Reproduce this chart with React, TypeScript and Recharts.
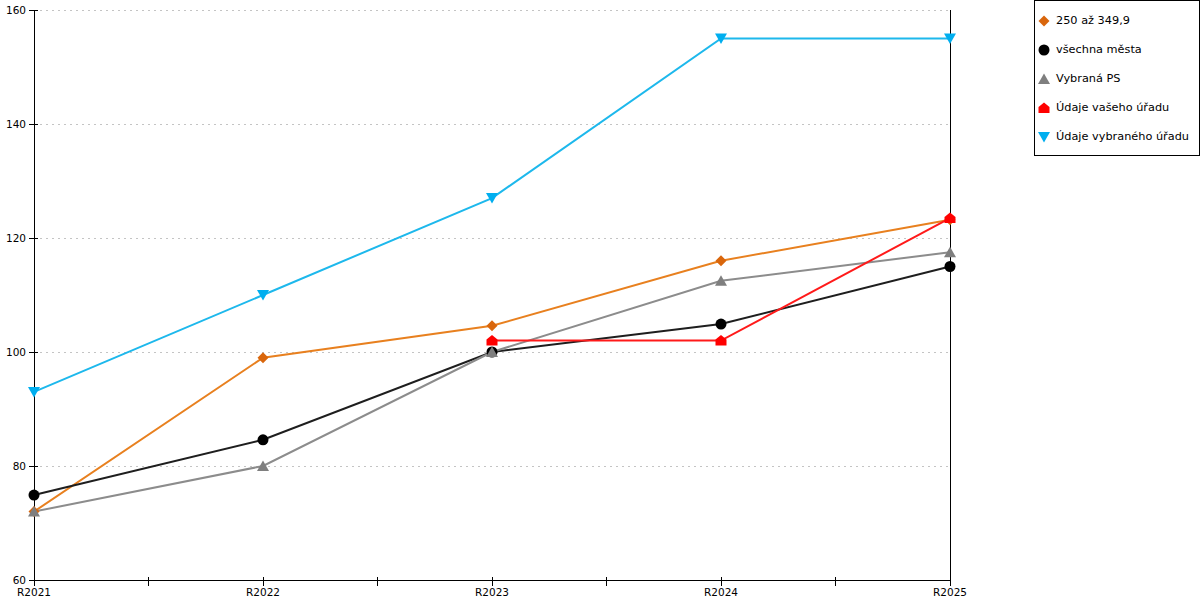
import React from "react";
import { CartesianGrid, Line, LineChart, ReferenceLine, XAxis, YAxis } from "recharts";

const years = ["R2021", "R2022", "R2023", "R2024", "R2025"];
const velikostni = [72, 99, 104.6, 116, 123.2];
const vsechnaMesta = [74.9, 84.6, 100, 104.9, 115];
const vybranaPS = [72, 80, 100, 112.5, 117.5];
const vasUrad = [null, null, 102, 102, 123.5];
const vybranyUrad = [93, 110, 127, 155, 155];

const yTicks = [60, 80, 100, 120, 140, 160];
const xTicks = [0, 0.5, 1, 1.5, 2, 2.5, 3, 3.5, 4];

const FONT = "'DejaVu Sans', Verdana, sans-serif";

const data = years.map((label, i) => ({
  x: i,
  label,
  velikostni: velikostni[i],
  vsechnaMesta: vsechnaMesta[i],
  vybranaPS: vybranaPS[i],
  vasUrad: vasUrad[i],
  vybranyUrad: vybranyUrad[i],
}));

type Shape = "diamond" | "circle" | "up" | "house" | "down";

function Marker({ shape, cx, cy, fill }: { shape: Shape; cx: number; cy: number; fill: string }) {
  switch (shape) {
    case "diamond":
      return <polygon points={`${cx},${cy - 5.5} ${cx + 5.5},${cy} ${cx},${cy + 5.5} ${cx - 5.5},${cy}`} fill={fill} />;
    case "circle":
      return <circle cx={cx} cy={cy} r={5.5} fill={fill} />;
    case "up":
      return <polygon points={`${cx},${cy - 5.5} ${cx + 6},${cy + 5} ${cx - 6},${cy + 5}`} fill={fill} />;
    case "down":
      return <polygon points={`${cx - 6},${cy - 5} ${cx + 6},${cy - 5} ${cx},${cy + 5.5}`} fill={fill} />;
    default:
      return (
        <polygon
          points={`${cx},${cy - 5.5} ${cx + 5.5},${cy - 1} ${cx + 5.5},${cy + 5} ${cx - 5.5},${cy + 5} ${cx - 5.5},${cy - 1}`}
          fill={fill}
        />
      );
  }
}

const series: { key: string; name: string; line: string; marker: string; shape: Shape; width: number }[] = [
  { key: "velikostni", name: "250 až 349,9", line: "#e8801f", marker: "#d9660c", shape: "diamond", width: 2 },
  { key: "vsechnaMesta", name: "všechna města", line: "#1e1e1e", marker: "#000000", shape: "circle", width: 2 },
  { key: "vybranaPS", name: "Vybraná PS", line: "#8c8c8c", marker: "#7f7f7f", shape: "up", width: 2 },
  { key: "vasUrad", name: "Údaje vašeho úřadu", line: "#ff1a1a", marker: "#ff0000", shape: "house", width: 2 },
  { key: "vybranyUrad", name: "Údaje vybraného úřadu", line: "#1db8ec", marker: "#00aeef", shape: "down", width: 2 },
];

function makeDot(shape: Shape, fill: string) {
  return (props: any) => {
    const { cx, cy, index } = props;
    if (cx == null || cy == null || props.value == null) return <g key={`d-${index}`} />;
    return (
      <g key={`d-${index}`}>
        <Marker shape={shape} cx={cx} cy={cy} fill={fill} />
      </g>
    );
  };
}

function XTick(props: any) {
  const { x, y, payload } = props;
  const v = payload.value as number;
  const isMajor = Number.isInteger(v);
  return (
    <g>
      <line x1={x} x2={x} y1={y - 3} y2={y + 6} stroke="#000" shapeRendering="crispEdges" />
      {isMajor && (
        <text x={x} y={y + 16} textAnchor="middle" fontSize={10.5} fontFamily={FONT} fill="#000">
          {years[v]}
        </text>
      )}
    </g>
  );
}

function YTick(props: any) {
  const { x, y, payload } = props;
  return (
    <g>
      <line x1={x - 5} x2={x + 4} y1={y} y2={y} stroke="#000" shapeRendering="crispEdges" />
      <text x={x - 8} y={y} dy="0.36em" textAnchor="end" fontSize={10.5} fontFamily={FONT} fill="#000">
        {payload.value}
      </text>
    </g>
  );
}

function LegendBox() {
  return (
    <div
      style={{
        position: "absolute",
        left: 1034,
        top: 0,
        width: 164,
        height: 154,
        border: "1px solid #000",
        background: "#fff",
        fontFamily: FONT,
        fontSize: 11.3,
      }}
    >
      {series.map((s, i) => (
        <div
          key={s.key}
          style={{ position: "absolute", left: 0, top: 10 + i * 29, height: 19, display: "flex", alignItems: "center" }}
        >
          <svg width={18} height={19} style={{ marginLeft: 1 }}>
            <Marker shape={s.shape} cx={8} cy={10} fill={s.marker} />
          </svg>
          <span style={{ marginLeft: 2, whiteSpace: "nowrap" }}>{s.name}</span>
        </div>
      ))}
    </div>
  );
}

export default function App() {
  return (
    <div style={{ position: "relative", width: 1200, height: 600, background: "#fff" }}>
      <style>{`body{margin:0}
.recharts-cartesian-axis-line,.recharts-reference-line-line,.recharts-cartesian-grid line{shape-rendering:crispEdges}`}</style>
      <LineChart width={1200} height={600} data={data} margin={{ top: 10, right: 250, bottom: 0, left: 0 }}>
        <CartesianGrid vertical={false} stroke="#c4c4c4" strokeDasharray="2 4" />
        <XAxis
          type="number"
          dataKey="x"
          domain={[0, 4]}
          ticks={xTicks}
          interval={0}
          height={20}
          tickSize={0}
          tickMargin={0}
          tickLine={false}
          axisLine={{ stroke: "#000" }}
          tick={<XTick />}
        />
        <YAxis
          type="number"
          domain={[60, 160]}
          ticks={yTicks}
          interval={0}
          width={34}
          tickSize={0}
          tickMargin={0}
          tickLine={false}
          axisLine={{ stroke: "#000" }}
          tick={<YTick />}
        />
        <ReferenceLine x={4} stroke="#000" strokeOpacity={1} />
        {series.map((s) => (
          <Line
            key={s.key}
            type="linear"
            dataKey={s.key}
            name={s.name}
            stroke={s.line}
            strokeWidth={s.width}
            dot={makeDot(s.shape, s.marker)}
            activeDot={false}
            isAnimationActive={false}
          />
        ))}
      </LineChart>
      <LegendBox />
    </div>
  );
}
